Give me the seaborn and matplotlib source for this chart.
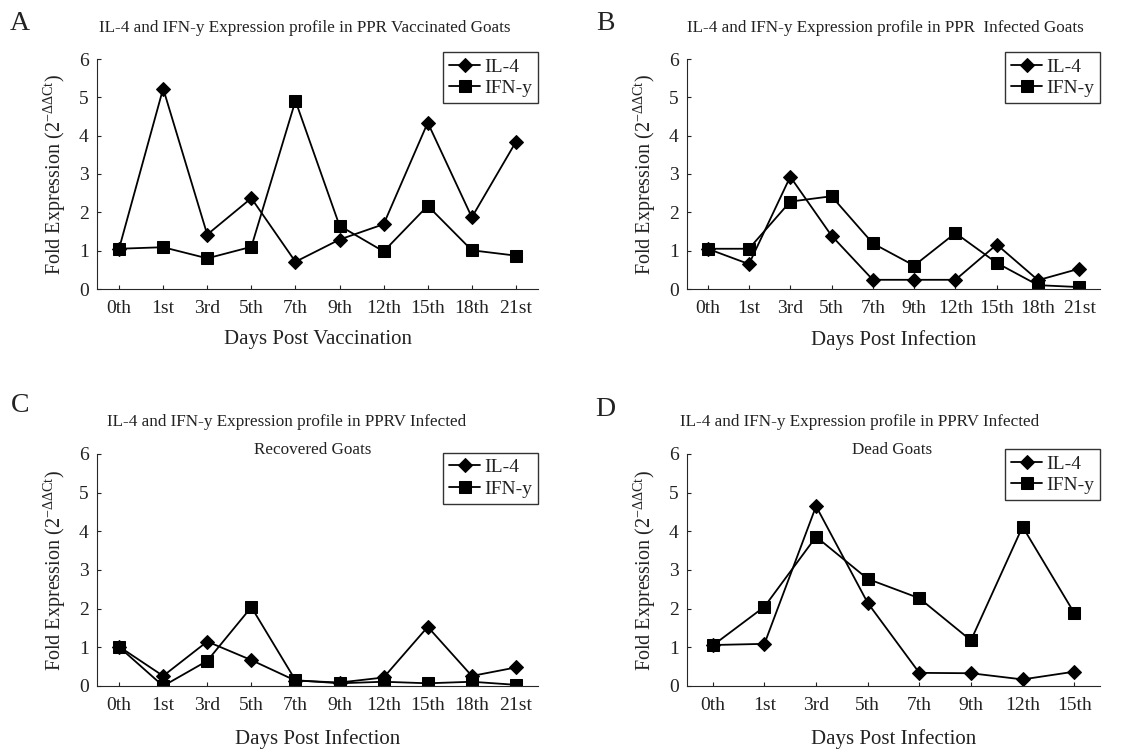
import pandas as pd
import matplotlib.pyplot as plt
import seaborn as sns

# --- Data ---
days_21 = ['0th', '1st', '3rd', '5th', '7th', '9th', '12th', '15th', '18th', '21st']
days_15 = ['0th', '1st', '3rd', '5th', '7th', '9th', '12th', '15th']

vacc_il4 = [1.05, 5.23, 1.42, 2.37, 0.71, 1.29, 1.69, 4.34, 1.87, 3.84]
vacc_ifn = [1.05, 1.09, 0.80, 1.10, 4.91, 1.65, 0.98, 2.17, 1.01, 0.87]

inf_il4 = [1.05, 0.65, 2.93, 1.39, 0.24, 0.24, 0.24, 1.16, 0.23, 0.53]
inf_ifn = [1.05, 1.05, 2.28, 2.42, 1.19, 0.61, 1.46, 0.68, 0.10, 0.05]

rec_il4 = [1.02, 0.26, 1.15, 0.67, 0.14, 0.09, 0.22, 1.53, 0.26, 0.48]
rec_ifn = [1.01, 0.00, 0.65, 2.04, 0.15, 0.07, 0.11, 0.07, 0.11, 0.03]

dead_il4 = [1.06, 1.09, 4.65, 2.15, 0.34, 0.33, 0.17, 0.37]
dead_ifn = [1.05, 2.05, 3.86, 2.77, 2.27, 1.18, 4.12, 1.89]

# --- Style ---
sns.set_style("ticks")
plt.rcParams['font.family'] = ['Liberation Serif', 'DejaVu Serif']
plt.rcParams['font.size'] = 14
plt.rcParams['text.color'] = '#222222'
plt.rcParams['axes.labelcolor'] = '#222222'
plt.rcParams['xtick.color'] = '#222222'
plt.rcParams['ytick.color'] = '#222222'

fig = plt.figure(figsize=(11.36, 7.49), dpi=100)
W, H = 1136, 749


def make_axes(left, right, top, bottom):
    return fig.add_axes([left / W, 1 - bottom / H, (right - left) / W, (bottom - top) / H])


ylabel = r'Fold Expression (2$^{\mathregular{-\Delta\Delta Ct}}$)'

panels = [
    (make_axes(97, 538, 59, 289), days_21, vacc_il4, vacc_ifn, 'Days Post Vaccination', 1.03, 9),
    (make_axes(687, 1100, 59, 289), days_21, inf_il4, inf_ifn, 'Days Post Infection', 1.03, 9),
    (make_axes(97, 538, 454, 686), days_21, rec_il4, rec_ifn, 'Days Post Infection', 1.005, 11),
    (make_axes(687, 1100, 454, 686), days_15, dead_il4, dead_ifn, 'Days Post Infection', 1.02, 11),
]

for ax, days, il4, ifn, xlab, leg_top, xpad in panels:
    df = pd.DataFrame({'day': days, 'IL-4': il4, 'IFN-y': ifn})
    sns.lineplot(data=df, x='day', y='IL-4', ax=ax, color='black', lw=1.3,
                 marker='D', markersize=7.5, markeredgecolor='black', sort=False, label='IL-4')
    sns.lineplot(data=df, x='day', y='IFN-y', ax=ax, color='black', lw=1.3,
                 marker='s', markersize=8, markeredgecolor='black', sort=False, label='IFN-y')
    ax.set_xlim(-0.5, len(days) - 0.5)
    ax.set_ylim(0, 6)
    ax.set_yticks(range(0, 7))
    ax.tick_params(direction='in', length=3, labelsize=14)
    ax.tick_params(axis='x', pad=8)
    ax.tick_params(axis='y', pad=6)
    sns.despine(ax=ax)
    ax.set_xlabel(xlab, fontsize=15, labelpad=xpad)
    ax.set_ylabel(ylabel, fontsize=14.5, labelpad=8)
    leg = ax.legend(loc='upper right', bbox_to_anchor=(1.0, leg_top), fontsize=14,
                    frameon=True, fancybox=False, handlelength=1.6, handletextpad=0.2,
                    borderpad=0.3, labelspacing=0.2, borderaxespad=0)
    leg.get_frame().set_edgecolor('black')
    leg.get_frame().set_linewidth(1.0)

# --- Titles and panel letters ---
tsize = 12.3
fig.text(305 / W, 1 - 28 / H, 'IL-4 and IFN-y Expression profile in PPR Vaccinated Goats',
         ha='center', va='center', fontsize=tsize)
fig.text(885 / W, 1 - 28 / H, 'IL-4 and IFN-y Expression profile in PPR  Infected Goats',
         ha='center', va='center', fontsize=tsize)
fig.text(287 / W, 1 - 422 / H, 'IL-4 and IFN-y Expression profile in PPRV Infected',
         ha='center', va='center', fontsize=tsize)
fig.text(313 / W, 1 - 450 / H, 'Recovered Goats', ha='center', va='center', fontsize=tsize)
fig.text(860 / W, 1 - 422 / H, 'IL-4 and IFN-y Expression profile in PPRV Infected',
         ha='center', va='center', fontsize=tsize)
fig.text(892 / W, 1 - 450 / H, 'Dead Goats', ha='center', va='center', fontsize=tsize)

for letter, x, y in [('A', 20, 24), ('B', 605, 24), ('C', 20, 405), ('D', 605, 410)]:
    fig.text(x / W, 1 - y / H, letter, ha='center', va='center', fontsize=20)

fig.savefig('out.png', dpi=100)
